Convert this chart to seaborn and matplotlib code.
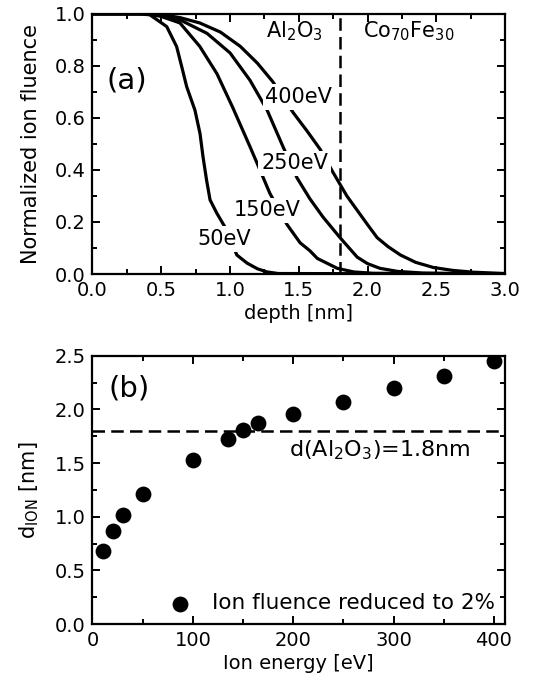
import numpy as np
import pandas as pd
import matplotlib
matplotlib.use("Agg")
import matplotlib.pyplot as plt
import seaborn as sns
from matplotlib.ticker import MultipleLocator

# (a) normalized ion fluence vs depth
x50 = [0, 0.35, 0.418, 0.54, 0.612, 0.649, 0.685, 0.745, 0.782, 0.804, 0.83, 0.855, 0.903, 0.964, 1.05, 1.124, 1.20, 1.27, 1.35, 3.0]
y50 = [1, 1, 0.996, 0.951, 0.874, 0.797, 0.72, 0.63, 0.54, 0.45, 0.36, 0.285, 0.235, 0.18, 0.073, 0.042, 0.02, 0.008, 0.002, 0]
x150 = [0, 0.40, 0.50, 0.636, 0.78, 0.905, 1.02, 1.145, 1.218, 1.29, 1.415, 1.51, 1.58, 1.635, 1.78, 1.90, 2.04, 3.0]
y150 = [1, 1, 0.99, 0.965, 0.875, 0.77, 0.64, 0.49, 0.40, 0.31, 0.19, 0.12, 0.09, 0.06, 0.022, 0.008, 0.003, 0]
x250 = [0, 0.40, 0.50, 0.636, 0.833, 1.0, 1.145, 1.27, 1.385, 1.487, 1.58, 1.675, 1.80, 1.925, 2.0, 2.09, 2.22, 2.40, 3.0]
y250 = [1, 1, 0.995, 0.977, 0.925, 0.85, 0.745, 0.63, 0.49, 0.37, 0.29, 0.22, 0.14, 0.065, 0.04, 0.022, 0.01, 0.004, 0]
x400 = [0, 0.40, 0.50, 0.64, 0.78, 0.93, 1.075, 1.20, 1.31, 1.46, 1.56, 1.655, 1.75, 1.85, 1.925, 2.0, 2.07, 2.15, 2.24, 2.35, 2.48, 2.62, 2.77, 3.0]
y400 = [1, 1, 0.998, 0.985, 0.965, 0.93, 0.875, 0.81, 0.74, 0.62, 0.55, 0.48, 0.39, 0.30, 0.245, 0.19, 0.14, 0.105, 0.073, 0.045, 0.025, 0.014, 0.007, 0.002]
curve_labels = ["50eV", "150eV", "250eV", "400eV"]
label_pos = [(0.96, 0.135), (1.27, 0.245), (1.47, 0.425), (1.50, 0.68)]

# (b) depth where fluence drops to 2%
energy = [10, 20, 30, 50, 100, 135, 150, 165, 200, 250, 300, 350, 400]
d_ion = [0.68, 0.87, 1.02, 1.21, 1.53, 1.72, 1.81, 1.87, 1.96, 2.07, 2.20, 2.31, 2.45]
al2o3_thick = 1.8

sns.set_style("ticks")
plt.rcParams['font.family'] = ['DejaVu Sans']
plt.rcParams['mathtext.fontset'] = 'dejavusans'
for k in ['text.color', 'axes.labelcolor', 'xtick.color', 'ytick.color', 'axes.edgecolor']:
    plt.rcParams[k] = 'black'

fig = plt.figure(figsize=(5.33, 6.92), dpi=100)
ax1 = fig.add_axes([0.1735, 0.604, 0.774, 0.376])
ax2 = fig.add_axes([0.1735, 0.098, 0.774, 0.388])

curves = pd.concat([
    pd.DataFrame({"depth": xs, "fluence": ys, "E": lab})
    for xs, ys, lab in zip([x50, x150, x250, x400], [y50, y150, y250, y400], curve_labels)
])
sns.lineplot(data=curves, x="depth", y="fluence", hue="E", units="E", estimator=None,
             palette=["black"] * 4, linewidth=2.3, legend=False, ax=ax1, zorder=2)
ax1.axvline(al2o3_thick, color="black", lw=1.8, ls=(0, (5, 2.5)), zorder=3)
for lab, (lx, ly) in zip(curve_labels, label_pos):
    ax1.text(lx, ly, lab, fontsize=15, ha="center", va="center", zorder=4,
             bbox=dict(facecolor="white", edgecolor="none", pad=2.0))
ax1.text(1.47, 0.91, "Al$_2$O$_3$", fontsize=15, ha="center", va="baseline")
ax1.text(2.30, 0.91, "Co$_{70}$Fe$_{30}$", fontsize=15, ha="center", va="baseline")
ax1.text(0.25, 0.745, "(a)", fontsize=21, ha="center", va="center")
ax1.set_xlim(0, 3.0)
ax1.set_ylim(0, 1.0)
ax1.xaxis.set_major_locator(MultipleLocator(0.5))
ax1.xaxis.set_minor_locator(MultipleLocator(0.25))
ax1.yaxis.set_major_locator(MultipleLocator(0.2))
ax1.yaxis.set_minor_locator(MultipleLocator(0.1))
ax1.set_xlabel("depth [nm]", fontsize=14, labelpad=3)
ax1.set_ylabel("Normalized ion fluence", fontsize=15, labelpad=10)

sns.scatterplot(x=energy, y=d_ion, s=130, color="black", edgecolor="black", linewidth=0,
                ax=ax2, zorder=3, label="Ion fluence reduced to 2%")
ax2.axhline(al2o3_thick, color="black", lw=1.8, ls=(0, (5, 2.5)), zorder=2)
ax2.text(196, 1.62, "d(Al$_2$O$_3$)=1.8nm", fontsize=16, ha="left", va="center")
ax2.text(37, 2.19, "(b)", fontsize=21, ha="center", va="center")
ax2.set_xlim(0, 411)
ax2.set_ylim(0, 2.5)
ax2.xaxis.set_major_locator(MultipleLocator(100))
ax2.xaxis.set_minor_locator(MultipleLocator(50))
ax2.yaxis.set_major_locator(MultipleLocator(0.5))
ax2.yaxis.set_minor_locator(MultipleLocator(0.25))
ax2.set_xlabel("Ion energy [eV]", fontsize=14, labelpad=3)
ax2.set_ylabel("d$_{\\mathrm{ION}}$ [nm]", fontsize=15, labelpad=10)
ax2.legend(loc="lower right", bbox_to_anchor=(0.975, 0.04), frameon=False, fontsize=15.5,
           handletextpad=0.45, borderpad=0, borderaxespad=0)

for ax in (ax1, ax2):
    for sp in ax.spines.values():
        sp.set_visible(True)
        sp.set_linewidth(1.6)
    ax.tick_params(which="both", direction="in", top=True, right=True, width=1.4,
                   labelsize=14, pad=5)
    ax.tick_params(which="major", length=6)
    ax.tick_params(which="minor", length=3.5)

fig.savefig("out.png", dpi=100)
